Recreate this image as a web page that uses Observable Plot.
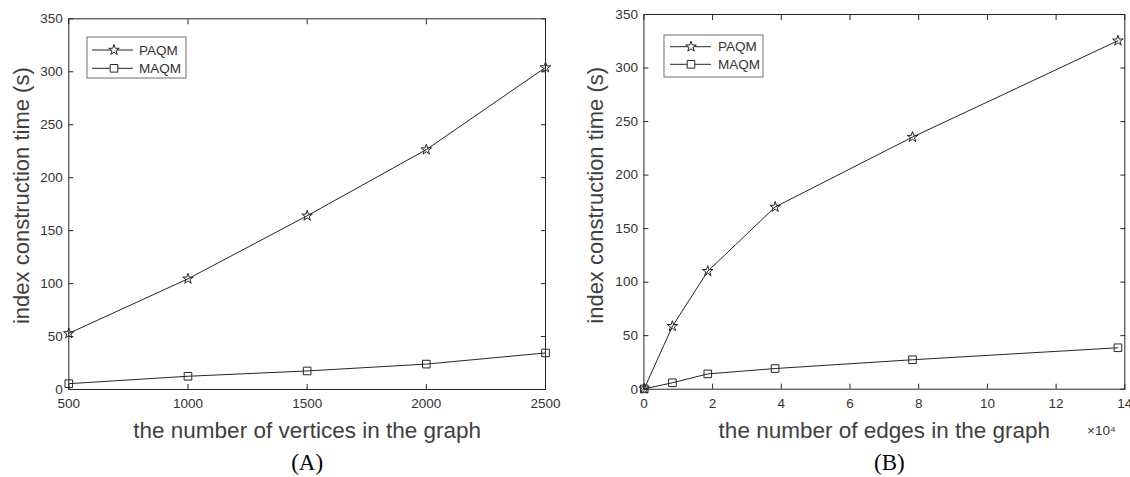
<!DOCTYPE html>
<html>
<head>
<meta charset="utf-8">
<script src="https://cdn.jsdelivr.net/npm/d3@7"></script>
<script src="https://cdn.jsdelivr.net/npm/@observablehq/plot@0.6"></script>
<style>
  html, body { margin: 0; padding: 0; background: white; }
  #wrap { position: relative; width: 1130px; height: 477px; overflow: hidden; background: white; }
  .panel { position: absolute; top: 0; }
  .legend { position: absolute; }
</style>
</head>
<body>
<div id="wrap"></div>
<script>
// ---- data ----
const seriesNames = ["PAQM", "MAQM"];

const verticesX = [500, 1000, 1500, 2000, 2500];
const paqmVertices = [53, 104.5, 164, 226.5, 304];
const maqmVertices = [5.5, 12.5, 17.5, 24, 34.5];

const edgesX = [100, 8300, 18600, 38200, 78200, 138000];
const paqmEdges = [0.5, 58.8, 110.2, 170.2, 235.5, 325.5];
const maqmEdges = [0.3, 6, 14.3, 19.3, 27.5, 38.7];

const yTicks = [0, 50, 100, 150, 200, 250, 300, 350];
const xTicksA = [500, 1000, 1500, 2000, 2500];
const xTicksB = [0, 20000, 40000, 60000, 80000, 100000, 120000, 140000];

const yLabel = "index construction time (s)";
const xLabelA = "the number of vertices in the graph";
const xLabelB = "the number of edges in the graph";
const captionA = "(A)";
const captionB = "(B)";
const exponentLabel = "×10⁴";

// ---- build ----
const ink = "#262626";
const sans = "'Liberation Sans', Arial, Helvetica, sans-serif";
const serif = "'Liberation Serif', 'Times New Roman', serif";
const symbols = {PAQM: "star", MAQM: "square"};
const radii = {PAQM: 3.3, MAQM: 4.3};

function rows(xs, a, b) {
  const out = [];
  xs.forEach((x, i) => out.push({x, y: a[i], s: seriesNames[0]}));
  xs.forEach((x, i) => out.push({x, y: b[i], s: seriesNames[1]}));
  return out;
}

function panel({data, xDomain, xTicks, xFormat, xLabel, caption, margins, extra = []}) {
  const seriesMarks = seriesNames.flatMap(name => {
    const d = data.filter(r => r.s === name);
    return [
      Plot.line(d, {x: "x", y: "y", stroke: ink, strokeWidth: 1}),
      Plot.dot(d, {x: "x", y: "y", symbol: () => symbols[name], r: radii[name], stroke: ink, strokeWidth: 1, fill: "none"})
    ];
  });
  return Plot.plot({
    width: 565,
    height: 477,
    marginLeft: margins.marginLeft,
    marginRight: margins.marginRight,
    marginTop: margins.marginTop,
    marginBottom: margins.marginBottom,
    style: {fontFamily: sans, color: ink, background: "white", overflow: "visible"},
    x: {domain: xDomain},
    y: {domain: [0, 350]},
    marks: [
      Plot.frame({stroke: ink, strokeWidth: 1}),
      Plot.axisX({ticks: xTicks, tickFormat: xFormat, tickSize: -5, tickPadding: 14, fontSize: 13.5, label: null, fill: "#333"}),
      Plot.axisX({anchor: "top", ticks: xTicks, tickSize: -5, fill: "none", label: null}),
      Plot.axisY({ticks: yTicks, tickSize: -5, tickPadding: 11, fontSize: 13.5, label: null, fill: "#333"}),
      Plot.axisY({anchor: "right", ticks: yTicks, tickSize: -5, fill: "none", label: null}),
      ...seriesMarks,
      Plot.text([yLabel], {frameAnchor: "left", textAnchor: "middle", lineAnchor: "middle", dx: margins.yLabelDx, dy: margins.yLabelDy, rotate: -90, fontSize: 22, fill: "#404040", text: d => d}),
      Plot.text([xLabel], {frameAnchor: "bottom", lineAnchor: "middle", dy: 41.5, fontSize: 22.5, fill: "#404040", text: d => d}),
      Plot.text([caption], {frameAnchor: "bottom", lineAnchor: "middle", dy: 73.5, dx: margins.capDx, fontSize: 23, fontFamily: serif, fill: "#000", text: d => d}),
      ...extra
    ]
  });
}

const wrap = document.getElementById("wrap");

const left = panel({
  data: rows(verticesX, paqmVertices, maqmVertices),
  xDomain: [500, 2500],
  xTicks: xTicksA,
  xFormat: d => String(d),
  xLabel: xLabelA,
  caption: captionA,
  margins: {marginLeft: 68.3, marginRight: 20, marginTop: 18.3, marginBottom: 88, yLabelDx: -46.5, yLabelDy: -8.5, capDx: 0}
});
left.classList.add("panel");
left.style.left = "0px";
wrap.appendChild(left);

const right = panel({
  data: rows(edgesX, paqmEdges, maqmEdges),
  xDomain: [0, 140000],
  xTicks: xTicksB,
  xFormat: d => String(d / 1e4),
  xLabel: xLabelB,
  caption: captionB,
  margins: {marginLeft: 78.4, marginRight: 5.7, marginTop: 14, marginBottom: 88.3, yLabelDx: -47.5, yLabelDy: -6.5, capDx: 5},
  extra: [Plot.text([exponentLabel], {frameAnchor: "bottom-right", textAnchor: "end", lineAnchor: "middle", dx: -9, dy: 41.5, fontSize: 13.5, fill: "#333", text: d => d})]
});
right.classList.add("panel");
right.style.left = "565px";
wrap.appendChild(right);

// ---- legends ----
function legend(x, y, w, h, lineX0, lineX1, markX, textX, rowY) {
  const svg = d3.create("svg").attr("class", "legend")
    .attr("width", w + 2).attr("height", h + 2)
    .style("left", (x - 1) + "px").style("top", (y - 1) + "px");
  svg.append("rect").attr("x", 1).attr("y", 1).attr("width", w).attr("height", h)
    .attr("fill", "white").attr("stroke", "#6e6e6e").attr("stroke-width", 1);
  seriesNames.forEach((name, i) => {
    const cy = rowY[i] - y + 1;
    svg.append("line").attr("x1", lineX0 - x + 1).attr("x2", lineX1 - x + 1)
      .attr("y1", cy).attr("y2", cy).attr("stroke", ink).attr("stroke-width", 1);
    const r = radii[name];
    const sym = name === "PAQM" ? d3.symbolStar : d3.symbolSquare;
    svg.append("path").attr("d", d3.symbol(sym, Math.PI * r * r)())
      .attr("transform", `translate(${markX - x + 1},${cy})`)
      .attr("fill", "white").attr("stroke", ink).attr("stroke-width", 1);
    svg.append("text").attr("x", textX - x + 1).attr("y", cy).attr("dy", "0.35em")
      .attr("font-family", sans).attr("font-size", 13.5).attr("fill", "#333").text(name);
  });
  wrap.appendChild(svg.node());
}
legend(87, 37, 99, 41, 92, 133, 114, 139, [50, 68.3]);
legend(664, 35, 99, 42, 670, 711, 691, 718, [46.7, 64.3]);
</script>
</body>
</html>
